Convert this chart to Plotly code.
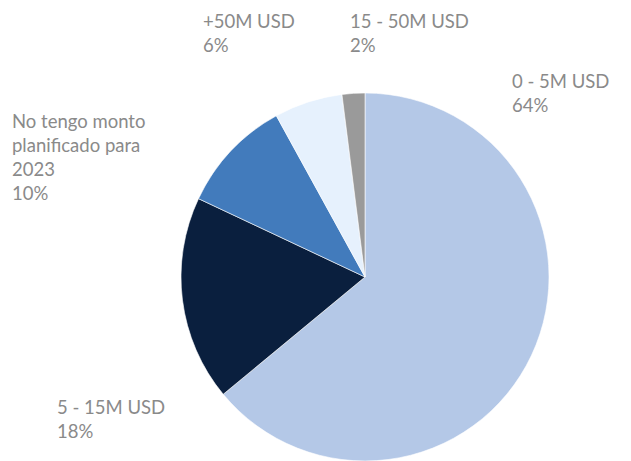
import plotly.graph_objects as go

labels = ["0 - 5M USD", "5 - 15M USD", "No tengo monto planificado para 2023", "+50M USD", "15 - 50M USD"]
values = [64, 18, 10, 6, 2]
colors = ["#b4c8e7", "#0a1f3e", "#427bbc", "#e6f1fd", "#9a9a9a"]

label_text = [
    "0 - 5M USD<br>64%",
    "5 - 15M USD<br>18%",
    "No tengo monto<br>planificado para<br>2023<br>10%",
    "+50M USD<br>6%",
    "15 - 50M USD<br>2%",
]
# label anchor positions in window pixels (top-left)
label_pos = [(512, 68), (57, 394), (12, 108), (203, 8), (350, 8)]

W, H = 631, 461
OFF = 8  # page body margin

fig = go.Figure(
    go.Pie(
        labels=labels,
        values=values,
        marker={"colors": colors, "line": {"color": "#ffffff", "width": 0.6}},
        sort=False,
        direction="clockwise",
        rotation=0,
        textinfo="none",
        hoverinfo="label+percent",
        domain={"x": [(181 - OFF) / W, (549 - OFF) / W], "y": [OFF / H, (368 + OFF) / H]},
    )
)

for text, (px_x, px_y) in zip(label_text, label_pos):
    fig.add_annotation(
        text=text,
        x=(px_x - OFF - 2) / W,
        y=1 - (px_y - OFF) / H,
        xref="paper",
        yref="paper",
        xanchor="left",
        yanchor="top",
        align="left",
        showarrow=False,
        font={"family": "Lato, sans-serif", "size": 18.5, "color": "#8a8a8a"},
    )

fig.update_layout(
    width=W,
    height=H,
    margin={"l": 0, "r": 0, "t": 0, "b": 0},
    paper_bgcolor="#ffffff",
    showlegend=False,
)

fig.write_html("out.html")
